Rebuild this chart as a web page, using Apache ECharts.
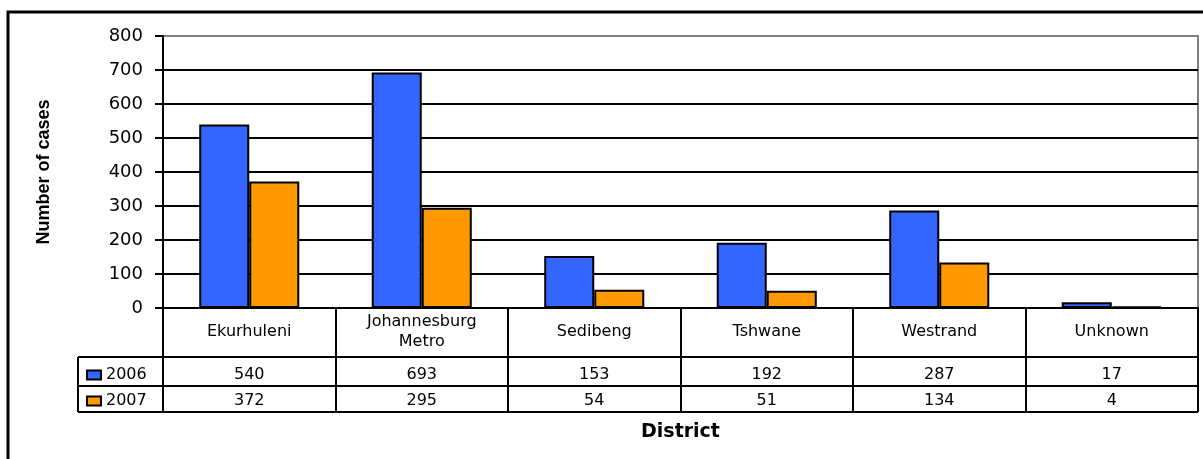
<!DOCTYPE html>
<html>
<head>
<meta charset="utf-8">
<script src="https://cdn.jsdelivr.net/npm/echarts@6/dist/echarts.min.js"></script>
<style>
html,body{margin:0;padding:0;background:#fff;}
#chart{width:1203px;height:459px;}
</style>
</head>
<body>
<div id="chart"></div>
<script>
// ---- data ----
var categories = ['Ekurhuleni', 'Johannesburg\nMetro', 'Sedibeng', 'Tshwane', 'Westrand', 'Unknown'];
var seriesNames = ['2006', '2007'];
var values2006 = [540, 693, 153, 192, 287, 17];
var values2007 = [372, 295, 54, 51, 134, 4];
var yTicks = { min: 0, max: 800, interval: 100 };
var yAxisTitle = 'Number of cases';
var xAxisTitle = 'District';

// ---- layout ----
var FONT = "'DejaVu Sans', 'Liberation Sans', Arial, sans-serif";
var FONT_TITLE = "'Liberation Sans', Arial, sans-serif";
var gridLeft = 163, gridRight = 1198, gridTop = 36, gridBottom = 308;
var row1 = 357, row2 = 386, row3 = 412, legendLeft = 78;

var splitColors = [];
for (var v = yTicks.min; v <= yTicks.max; v += yTicks.interval) {
  splitColors.push(v === yTicks.max ? '#808080' : '#000000');
}

var chart = echarts.init(document.getElementById('chart'), null, { renderer: 'canvas' });

function hline(y) {
  return { type: 'line', shape: { x1: legendLeft, y1: y, x2: gridRight, y2: y },
           style: { stroke: '#000', lineWidth: 2 }, z: 10 };
}

var option = {
  backgroundColor: '#ffffff',
  animation: false,
  textStyle: { fontFamily: FONT },
  grid: {
    left: gridLeft, right: 1203 - gridRight, top: gridTop, bottom: 459 - gridBottom,
    show: true, borderColor: '#808080', borderWidth: 2, backgroundColor: 'transparent'
  },
  legend: {
    orient: 'vertical',
    left: 86, top: 367, padding: 0,
    itemWidth: 14, itemHeight: 9, itemGap: 10,
    data: seriesNames,
    icon: 'rect',
    itemStyle: { borderColor: '#000', borderWidth: 2 },
    textStyle: { fontFamily: FONT, fontSize: 16, color: '#000', lineHeight: 16, padding: [0, 0, 0, 0] }
  },
  xAxis: [
    {
      type: 'category',
      data: categories,
      position: 'bottom',
      axisLine: { show: true, lineStyle: { color: '#000', width: 2 } },
      axisTick: { show: true, length: row3 - gridBottom, lineStyle: { color: '#000', width: 2 } },
      axisLabel: { interval: 0, margin: 24, verticalAlign: 'middle', color: '#000',
                   fontSize: 16, lineHeight: 20, fontFamily: FONT },
      splitLine: { show: false },
      name: xAxisTitle,
      nameLocation: 'middle',
      nameGap: 115,
      nameTextStyle: { fontFamily: FONT, fontSize: 19, fontWeight: 'bold', color: '#000' }
    },
    {
      type: 'category',
      data: values2006.map(String),
      position: 'bottom', offset: 0,
      axisLine: { show: false }, axisTick: { show: false }, splitLine: { show: false },
      axisLabel: { interval: 0, margin: 67, verticalAlign: 'middle', color: '#000', fontSize: 16, fontFamily: FONT }
    },
    {
      type: 'category',
      data: values2007.map(String),
      position: 'bottom', offset: 0,
      axisLine: { show: false }, axisTick: { show: false }, splitLine: { show: false },
      axisLabel: { interval: 0, margin: 93, verticalAlign: 'middle', color: '#000', fontSize: 16, fontFamily: FONT }
    }
  ],
  yAxis: {
    type: 'value',
    min: yTicks.min, max: yTicks.max, interval: yTicks.interval,
    axisLine: { show: true, lineStyle: { color: '#000', width: 2 } },
    axisTick: { show: true, length: 8, lineStyle: { color: '#000', width: 2 } },
    axisLabel: { margin: 20, color: '#000', fontSize: 18, fontFamily: FONT },
    splitLine: { show: true, lineStyle: { color: splitColors, width: 2 } },
    name: yAxisTitle,
    nameLocation: 'middle',
    nameRotate: 90,
    nameGap: 110,
    nameTextStyle: { fontFamily: FONT_TITLE, fontSize: 18, fontWeight: 'bold', color: '#000' }
  },
  series: [
    {
      name: seriesNames[0], type: 'bar', xAxisIndex: 0, data: values2006,
      barGap: '0%', barCategoryGap: '42%',
      itemStyle: { color: '#3366FF', borderColor: '#000', borderWidth: 2 }
    },
    {
      name: seriesNames[1], type: 'bar', xAxisIndex: 0, data: values2007,
      barGap: '0%', barCategoryGap: '42%',
      itemStyle: { color: '#FF9900', borderColor: '#000', borderWidth: 2 }
    }
  ],
  graphic: [
    { type: 'rect', shape: { x: 8, y: 12, width: 1400, height: 600 },
      style: { fill: 'none', stroke: '#000', lineWidth: 3 }, z: 10 },
    hline(row1), hline(row2), hline(row3),
    { type: 'line', shape: { x1: legendLeft, y1: row1, x2: legendLeft, y2: row3 },
      style: { stroke: '#000', lineWidth: 2 }, z: 10 }
  ]
};
chart.setOption(option);
</script>
</body>
</html>
